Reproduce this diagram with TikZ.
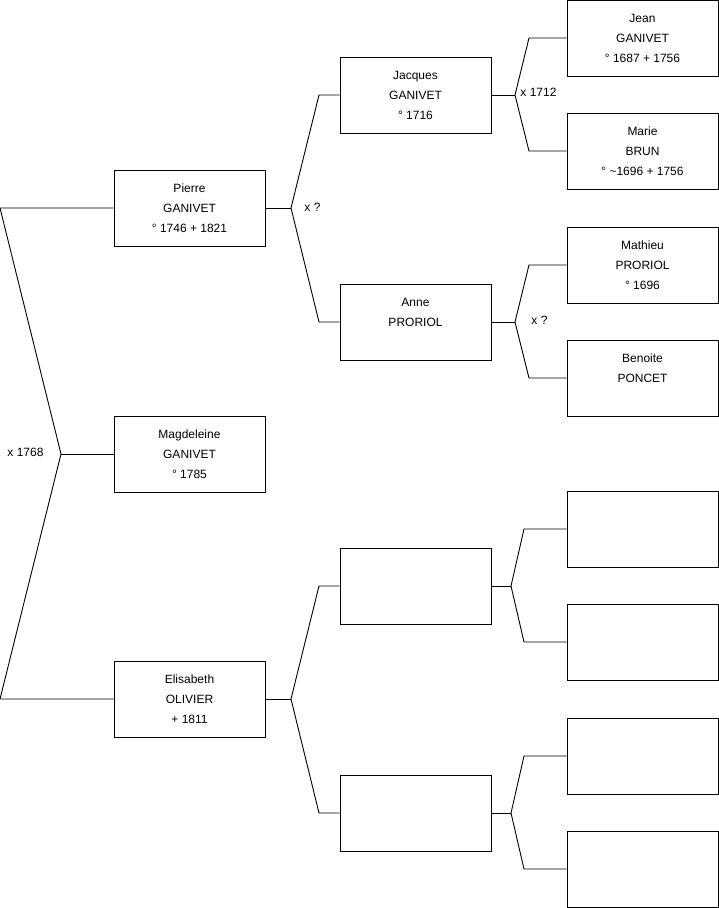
\documentclass[tikz,border=0pt]{standalone}
\usepackage{fontspec}
\setmainfont{Liberation Sans}
\usetikzlibrary{positioning}

\begin{document}
\begin{tikzpicture}[x=1pt,y=-1pt,
every node/.style={font=\fontsize{12}{20}\selectfont,align=center},
person/.style={draw,line width=0.9pt,minimum width=151pt,minimum height=76pt,inner sep=0pt},
union/.style={anchor=west,inner sep=0pt},
line width=0.9pt]
\useasboundingbox (0,0) rectangle (719,908);
% generation 1
\node[person] (pierre) at (189.5,208) {Pierre\\GANIVET\\° 1746 + 1821};
\node[person] (magdeleine) at (189.5,454) {Magdeleine\\GANIVET\\° 1785};
\node[person] (elisabeth) at (189.5,699) {Elisabeth\\OLIVIER\\+ 1811};
% generation 2
\node[person] (jacques) at (415.5,95) {Jacques\\GANIVET\\° 1716};
\node[person] (anne) at (415.5,322) {Anne\\PRORIOL\\~};
\node[person] (olivierf) at (415.5,586) {};
\node[person] (olivierm) at (415.5,813) {};
% generation 3
\node[person] (jean) at (642.5,38) {Jean\\GANIVET\\° 1687 + 1756};
\node[person] (marie) at (642.5,151) {Marie\\BRUN\\° \textasciitilde1696 + 1756};
\node[person] (mathieu) at (642.5,265) {Mathieu\\PRORIOL\\° 1696};
\node[person] (benoite) at (642.5,378) {Benoite\\PONCET\\~};
\node[person] (empty1) at (642.5,529) {};
\node[person] (empty2) at (642.5,642) {};
\node[person] (empty3) at (642.5,756) {};
\node[person] (empty4) at (642.5,869) {};
% marriage forks
\coordinate (m1) at (61,454);\coordinate (m1a) at (0,208);\coordinate (m1b) at (0,699);
\draw (pierre.west)--(m1a)--(m1)--(m1b)--(elisabeth.west);\draw (m1)--(magdeleine.west);
\node[union] (u1) at (7,452) {x 1768};
\coordinate (m2) at (291,208);\coordinate (m2a) at (319,95);\coordinate (m2b) at (319,322);
\draw (jacques.west)--(m2a)--(m2)--(m2b)--(anne.west);\draw (m2)--(pierre.east);
\node[union] (u2) at (304,207) {x ?};
\coordinate (m3) at (291,699);\coordinate (m3a) at (319,586);\coordinate (m3b) at (319,813);
\draw (olivierf.west)--(m3a)--(m3)--(m3b)--(olivierm.west);\draw (m3)--(elisabeth.east);
\coordinate (m4) at (515,95);\coordinate (m4a) at (529,38);\coordinate (m4b) at (529,151);
\draw (jean.west)--(m4a)--(m4)--(m4b)--(marie.west);\draw (m4)--(jacques.east);
\node[union] (u4) at (520,92) {x 1712};
\coordinate (m5) at (515,322);\coordinate (m5a) at (529,265);\coordinate (m5b) at (529,378);
\draw (mathieu.west)--(m5a)--(m5)--(m5b)--(benoite.west);\draw (m5)--(anne.east);
\node[union] (u5) at (531,320) {x ?};
\coordinate (m6) at (511,586);\coordinate (m6a) at (524,529);\coordinate (m6b) at (524,642);
\draw (empty1.west)--(m6a)--(m6)--(m6b)--(empty2.west);\draw (m6)--(olivierf.east);
\coordinate (m7) at (511,813);\coordinate (m7a) at (524,756);\coordinate (m7b) at (524,869);
\draw (empty3.west)--(m7a)--(m7)--(m7b)--(empty4.west);\draw (m7)--(olivierm.east);
\end{tikzpicture}
\end{document}
